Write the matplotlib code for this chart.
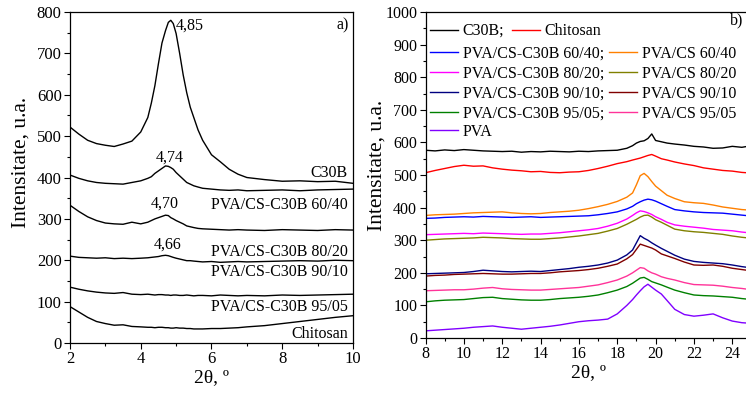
import numpy as np
import matplotlib
matplotlib.use("Agg")
import matplotlib.pyplot as plt

plt.rcParams['font.family'] = ['Liberation Serif', 'DejaVu Serif']

# panel a) - low angle region
x_a = [2.0, 2.25, 2.5, 2.75, 3.0, 3.25, 3.5, 3.75, 4.0,
       4.2, 4.3, 4.4, 4.5, 4.6, 4.7, 4.78, 4.85, 4.92, 5.0,
       5.1, 5.2, 5.3, 5.4, 5.5, 5.62, 5.75,
       6.0, 6.25, 6.5, 6.75, 7.0, 7.5, 8.0, 8.5, 9.0, 9.5, 10.0]
c30b_a = [522, 505, 490, 482, 478, 475, 481, 488, 510,
          545, 580, 622, 675, 725, 755, 775, 780, 772, 748,
          700, 648, 605, 570, 545, 515, 490,
          455, 438, 420, 408, 400, 395, 391, 392, 390, 391, 386]
m6040_a = [406, 398, 392, 388, 386, 385, 384, 388, 392,
           398, 402, 410, 416, 422, 428, 427, 424, 420, 412,
           404, 396, 388, 384, 380, 377, 374,
           372, 370, 369, 370, 368, 369, 370, 368, 370, 371, 372]
m8020_a = [333, 318, 305, 296, 290, 288, 287, 292, 288,
           292, 296, 300, 303, 306, 309, 308, 303, 300, 296,
           292, 288, 283, 281, 279, 277, 276,
           275, 274, 273, 274, 273, 272, 274, 273, 272, 274, 273]
m9010_a = [210, 207, 206, 205, 206, 204, 205, 204, 205,
           206, 207, 208, 209, 211, 212, 211, 209, 207, 205,
           203, 201, 199, 199, 198, 197, 196,
           197, 195, 196, 197, 196, 197, 198, 199, 198, 200, 199]
m9505_a = [135, 130, 126, 123, 121, 120, 122, 118, 117,
           118, 117, 116, 117, 117, 116, 116, 115, 116, 116,
           115, 115, 116, 115, 114, 115, 115,
           114, 116, 115, 114, 115, 114, 116, 115, 116, 117, 118]
chit_a = [88, 75, 62, 52, 47, 43, 44, 40, 39,
          38, 38, 37, 38, 38, 37, 37, 36, 36, 37,
          36, 36, 35, 35, 34, 34, 34,
          35, 35, 36, 37, 39, 42, 47, 52, 57, 62, 66]

labels_a = ["C30B", "PVA/CS-C30B 60/40", "PVA/CS-C30B 80/20",
            "PVA/CS-C30B 90/10", "PVA/CS-C30B 95/05", "Chitosan"]
label_y_a = [410, 334, 220, 171, 87, 22]
peaks_a = ["4,85", "4,74", "4,70", "4,66"]
peak_pos_a = [(5.0, 768), (4.82, 449), (4.68, 338), (4.77, 237)]

# panel b) - wide angle region
x_b = [8.0, 8.5, 9.0, 9.5, 10.0, 10.5, 11.0, 11.5, 12.0, 12.5, 13.0, 13.5, 14.0, 14.5,
       15.0, 15.5, 16.0, 16.5, 17.0, 17.5, 18.0, 18.5, 18.8, 19.0, 19.2, 19.4, 19.6,
       19.8, 20.0, 20.3, 20.6, 21.0, 21.5, 22.0, 22.5, 23.0, 23.5, 24.0, 24.5, 25.0]
c30b_b = [576, 574, 577, 575, 578, 576, 574, 573, 572, 573, 570, 572, 571, 573,
          572, 571, 573, 572, 574, 575, 576, 582, 590, 598, 603, 605, 612,
          626, 606, 602, 598, 595, 592, 588, 586, 582, 583, 588, 585, 590]
chit_b = [507, 514, 520, 526, 530, 527, 528, 522, 518, 515, 513, 510, 511, 508,
          507, 509, 510, 514, 520, 527, 535, 541, 546, 549, 552, 556, 560,
          563, 558, 550, 546, 540, 534, 529, 522, 518, 514, 512, 508, 506]
m6040_b = [367, 368, 370, 371, 372, 371, 373, 372, 371, 370, 371, 372, 370, 371,
           372, 373, 374, 375, 378, 382, 387, 396, 404, 412, 418, 423, 426,
           424, 420, 412, 404, 394, 390, 387, 385, 384, 383, 380, 377, 374]
p6040_b = [376, 378, 379, 380, 382, 384, 385, 386, 387, 384, 382, 381, 382, 385,
           387, 389, 392, 397, 403, 410, 419, 432, 445, 470, 498, 505, 495,
           480, 466, 452, 438, 428, 418, 415, 413, 408, 402, 398, 394, 392]
m8020_b = [317, 318, 319, 320, 321, 320, 322, 321, 320, 319, 318, 319, 319, 321,
           323, 326, 329, 332, 336, 343, 352, 365, 376, 384, 390, 388, 384,
           379, 372, 364, 355, 347, 343, 340, 337, 333, 331, 329, 325, 322]
p8020_b = [300, 302, 304, 305, 306, 307, 309, 308, 307, 305, 304, 303, 303, 305,
           307, 310, 313, 317, 321, 328, 336, 349, 358, 364, 371, 376, 377,
           371, 363, 355, 346, 334, 329, 326, 324, 321, 318, 313, 309, 306]
m9010_b = [197, 198, 199, 200, 201, 204, 208, 206, 204, 203, 204, 205, 204, 207,
           210, 213, 217, 220, 224, 230, 239, 255, 270, 292, 314, 306, 300,
           292, 285, 275, 266, 254, 242, 235, 232, 230, 228, 224, 219, 215]
p9010_b = [190, 192, 193, 195, 196, 197, 198, 197, 196, 196, 197, 198, 198, 200,
           203, 205, 207, 210, 214, 220, 227, 243, 256, 272, 288, 284, 280,
           276, 270, 258, 252, 244, 233, 224, 223, 224, 220, 214, 210, 206]
m9505_b = [111, 114, 116, 117, 118, 121, 124, 125, 121, 119, 117, 116, 116, 118,
           121, 123, 125, 128, 132, 139, 147, 158, 168, 176, 184, 186, 180,
           173, 169, 163, 156, 147, 139, 132, 130, 129, 127, 125, 121, 118]
p9505_b = [145, 146, 147, 148, 148, 150, 153, 155, 151, 149, 148, 147, 147, 149,
           151, 153, 155, 159, 163, 170, 178, 190, 200, 208, 216, 214, 206,
           200, 196, 188, 183, 178, 170, 164, 163, 162, 159, 155, 152, 148]
pva_b = [22, 24, 26, 28, 30, 33, 35, 37, 33, 30, 27, 30, 33, 36,
         40, 45, 50, 53, 55, 58, 74, 100, 118, 132, 145, 157, 165,
         156, 147, 135, 115, 88, 72, 67, 70, 74, 62, 52, 47, 45]

fig = plt.figure(figsize=(7.46, 3.93), dpi=100)
ax1 = fig.add_axes([0.0938, 0.1272, 0.3794, 0.8422])
ax2 = fig.add_axes([0.5704, 0.1399, 0.4369, 0.8295])

# ---- a)
for y in [c30b_a, m6040_a, m8020_a, m9010_a, m9505_a, chit_a]:
    ax1.plot(x_a, y, color='black', lw=1.0)
for lab, yy in zip(labels_a, label_y_a):
    ax1.text(9.85, yy, lab, ha='right', va='center', fontsize=11.5)
for lab, (px, py) in zip(peaks_a, peak_pos_a):
    ha = 'left' if lab == "4,85" else 'center'
    ax1.text(px, py, lab, ha=ha, va='center', fontsize=11.5)
ax1.text(9.7, 768, "a)", ha='center', va='center', fontsize=11.5)
ax1.set_xlim(2, 10)
ax1.set_ylim(0, 800)
ax1.set_xticks(np.arange(2, 11, 2))
ax1.set_xticks(np.arange(3, 10, 2), minor=True)
ax1.set_yticks(np.arange(0, 801, 100))
ax1.set_yticks(np.arange(50, 800, 100), minor=True)
ax1.set_xlabel("2θ, º", fontsize=14, labelpad=1)
ax1.set_ylabel("Intensitate, u.a.", fontsize=15.5)
ax1.yaxis.set_label_coords(-0.141, 0.545)

# ---- b)
series_b = [
    (c30b_b, 'black', "C30B;"),
    (chit_b, '#ff0000', "Chitosan"),
    (m6040_b, '#0000ff', "PVA/CS-C30B 60/40;"),
    (p6040_b, '#ff8000', "PVA/CS 60/40"),
    (m8020_b, '#ff00ff', "PVA/CS-C30B 80/20;"),
    (p8020_b, '#808000', "PVA/CS 80/20"),
    (m9010_b, '#000080', "PVA/CS-C30B 90/10;"),
    (p9010_b, '#800000', "PVA/CS 90/10"),
    (m9505_b, '#008000', "PVA/CS-C30B 95/05;"),
    (p9505_b, '#ff3399', "PVA/CS 95/05"),
    (pva_b, '#8000ff', "PVA"),
]
lines = []
for y, c, lab in series_b:
    ln, = ax2.plot(x_b, y, color=c, lw=1.0, label=lab)
    lines.append(ln)

leg_kw = dict(frameon=False, fontsize=11.5, handlelength=1.75, handletextpad=0.3,
              borderpad=0, borderaxespad=0, labelspacing=0.25, loc='upper left')
leg1 = ax2.legend(handles=lines[:2], ncol=2, columnspacing=0.45,
                  bbox_to_anchor=(0.014, 0.966), **leg_kw)
ax2.add_artist(leg1)
# legend fills columns first: composites in column 1, blends in column 2
leg_order = [lines[2], lines[4], lines[6], lines[8], lines[3], lines[5], lines[7], lines[9]]
leg2 = ax2.legend(handles=leg_order, ncol=2, columnspacing=0.3,
                  bbox_to_anchor=(0.014, 0.897), **leg_kw)
ax2.add_artist(leg2)
ax2.legend(handles=lines[10:], bbox_to_anchor=(0.014, 0.657), **leg_kw)

ax2.text(24.25, 975, "b)", ha='center', va='center', fontsize=11.5)
ax2.set_xlim(8, 25)
ax2.set_ylim(0, 1000)
ax2.set_xticks(np.arange(8, 25, 2))
ax2.set_xticks(np.arange(9, 25, 2), minor=True)
ax2.set_yticks(np.arange(0, 1001, 100))
ax2.set_yticks(np.arange(50, 1000, 100), minor=True)
ax2.set_xlabel("2θ, º", fontsize=14, labelpad=1)
ax2.set_ylabel("Intensitate, u.a.", fontsize=15.5)
ax2.yaxis.set_label_coords(-0.121, 0.53)

for ax in (ax1, ax2):
    ax.tick_params(which='major', direction='out', length=4, width=0.8, labelsize=12, pad=2)
    ax.tick_params(which='minor', direction='out', length=2.5, width=0.8)
    for s in ax.spines.values():
        s.set_linewidth(0.9)
ax2.tick_params(labelsize=11.5)

fig.savefig("out.png", dpi=100)
